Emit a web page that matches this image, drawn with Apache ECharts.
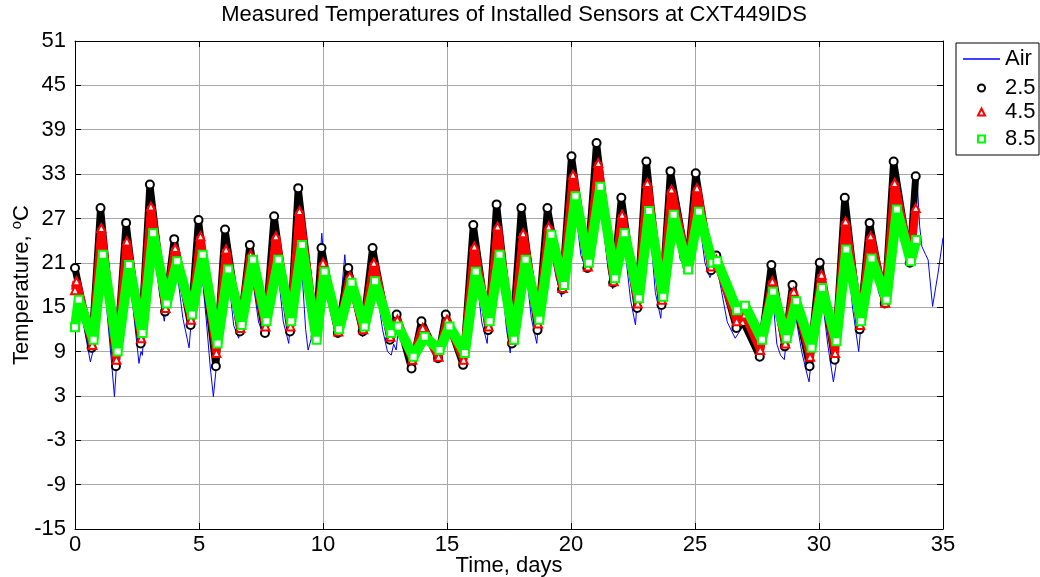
<!DOCTYPE html>
<html>
<head>
<meta charset="utf-8">
<script src="https://cdn.jsdelivr.net/npm/echarts@6/dist/echarts.min.js"></script>
<style>
html,body{margin:0;padding:0;background:#fff;}
#chart{width:1040px;height:577px;}
</style>
</head>
<body>
<div id="chart"></div>
<script>
// ---- data (day, temperature °C) ----
const titleText = 'Measured Temperatures of Installed Sensors at CXT449IDS';
const seriesNames = ['Air', '2.5', '4.5', '8.5'];
const xTicks = [0, 5, 10, 15, 20, 25, 30, 35];
const yTicks = [-15, -9, -3, 3, 9, 15, 21, 27, 33, 39, 45, 51];

const airTemp = [
  [0.00,17.5],[0.35,12.5],[0.62,7.6],[0.72,9.0],[1.00,26.5],[1.30,14.0],[1.50,6.5],[1.59,2.9],[1.68,7.5],
  [2.02,25.0],[2.40,13.0],[2.58,7.4],[2.66,9.0],[2.72,8.5],[3.00,29.5],[3.40,17.0],[3.60,13.1],[3.98,23.5],
  [4.35,13.5],[4.60,9.5],[4.97,25.0],[5.30,13.0],[5.45,7.0],[5.58,2.9],[5.70,7.0],[6.03,24.0],[6.40,12.5],
  [6.60,10.8],[7.03,22.0],[7.40,13.0],[7.62,11.0],[8.01,25.5],[8.40,13.0],[8.62,10.1],[8.98,29.0],[9.30,12.0],
  [9.40,9.2],[9.55,11.0],[9.70,12.0],[9.95,25.0],[10.15,17.0],[10.60,11.3],[10.88,22.1],[10.95,19.0],[11.02,19.5],
  [11.60,11.0],[11.98,22.0],[12.40,12.0],[12.60,9.0],[12.75,8.5],[12.85,10.0],[12.95,9.2],[13.05,12.5],[13.55,7.0],
  [13.95,12.0],[14.62,8.0],[14.93,13.0],[15.62,7.0],[16.04,24.0],[16.40,13.0],[16.62,10.1],[16.98,27.0],[17.40,12.0],
  [17.55,8.8],[17.98,26.5],[18.40,13.5],[18.62,10.1],[19.02,26.5],[19.40,19.0],[19.62,16.4],[20.00,33.5],[20.40,22.0],
  [20.64,19.8],[21.01,35.0],[21.50,20.0],[21.68,17.5],[22.01,28.0],[22.40,16.0],[22.60,12.6],[23.02,32.5],[23.40,17.0],
  [23.62,13.5],[24.00,31.5],[24.40,21.5],[24.68,19.8],[25.01,31.0],[25.40,21.0],[25.60,19.0],[25.85,21.0],[26.05,17.5],
  [26.30,13.0],[26.62,10.8],[26.95,12.5],[27.20,11.0],[27.58,7.7],[28.05,19.5],[28.30,10.0],[28.45,8.5],[28.60,7.9],
  [28.90,17.0],[29.30,9.0],[29.55,5.5],[29.60,4.9],[29.66,7.0],[30.00,20.0],[30.35,10.0],[30.58,4.9],[30.68,7.0],
  [31.02,28.0],[31.35,15.0],[31.60,9.0],[32.02,25.0],[32.40,17.0],[32.62,15.3],[33.00,33.0],[33.40,23.0],[33.62,21.0],
  [33.96,32.0],[34.06,25.9],[34.15,23.2],[34.30,22.1],[34.40,21.4],[34.58,15.1],[34.64,15.1],[34.80,19.6],[35.00,24.4]
];

const sensor25 = [
  [0.00,20.3],[0.67,9.5],[1.03,28.4],[1.65,7.0],[2.06,26.4],[2.65,10.1],[3.02,31.6],[3.63,14.4],[4.00,24.2],
  [4.66,12.6],[4.98,26.8],[5.68,7.0],[6.05,25.5],[6.65,11.7],[7.05,23.4],[7.66,11.5],[8.03,27.3],[8.67,11.7],
  [9.00,31.1],[9.70,11.0],[9.94,23.0],[10.60,11.5],[11.02,20.3],[11.60,11.7],[12.00,23.0],[12.70,10.6],[12.97,14.0],
  [13.57,6.7],[13.97,13.1],[14.64,8.1],[14.95,14.0],[15.65,7.2],[16.06,26.1],[16.66,11.9],[17.00,28.9],[17.62,10.1],
  [18.00,28.4],[18.65,11.9],[19.05,28.4],[19.64,17.4],[20.02,35.4],[20.66,20.3],[21.03,37.2],[21.70,18.3],[22.03,29.8],
  [22.67,14.9],[23.04,34.7],[23.65,15.3],[24.01,33.4],[24.70,20.5],[25.03,33.1],[25.65,20.0],[25.86,22.0],[26.67,12.2],
  [26.95,13.0],[27.61,8.3],[28.08,20.7],[28.62,9.7],[28.93,18.0],[29.62,7.0],[30.03,21.0],[30.63,7.9],[31.04,29.8],
  [31.64,12.0],[32.04,26.4],[32.65,15.5],[33.01,34.7],[33.66,21.0],[33.90,32.7]
];

const sensor45 = [
  [0.00,17.3],[0.06,18.5],[0.70,9.9],[1.06,25.7],[1.67,7.9],[2.09,23.9],[2.67,10.8],[3.06,28.6],[3.65,14.9],
  [4.04,23.0],[4.68,13.3],[5.06,24.6],[5.70,8.8],[6.09,22.8],[6.67,12.2],[7.08,22.1],[7.68,12.4],[8.10,24.6],
  [8.69,12.4],[9.05,28.0],[9.72,11.2],[10.00,21.0],[10.62,11.7],[11.08,19.2],[11.62,12.0],[12.05,21.0],[12.72,11.0],
  [13.00,13.3],[13.60,7.9],[14.02,12.2],[14.66,8.3],[15.00,13.3],[15.67,7.9],[16.10,23.2],[16.68,12.4],[17.04,25.9],
  [17.64,10.6],[18.07,25.0],[18.67,12.8],[19.10,25.9],[19.66,17.6],[20.08,32.9],[20.68,20.5],[21.10,34.5],[21.72,18.5],
  [22.06,27.5],[22.69,15.5],[23.08,31.8],[23.67,16.0],[24.05,30.9],[24.72,20.5],[25.08,31.1],[25.65,20.5],[25.86,21.4],
  [26.68,13.1],[27.00,14.0],[27.63,9.2],[28.12,18.5],[28.64,10.1],[28.98,17.1],[29.64,8.3],[30.10,19.4],[30.65,8.8],
  [31.07,26.6],[31.66,12.6],[32.08,24.6],[32.67,15.6],[33.05,31.8],[33.68,21.4],[33.90,28.4]
];

const sensor85 = [
  [0.00,12.3],[0.15,16.0],[0.75,10.6],[1.12,22.1],[1.72,9.0],[2.18,20.7],[2.72,11.5],[3.15,25.0],[3.70,15.5],
  [4.12,21.2],[4.72,14.0],[5.15,22.1],[5.75,10.1],[6.18,20.1],[6.72,12.6],[7.18,21.4],[7.72,13.1],[8.20,21.4],
  [8.72,13.1],[9.15,23.4],[9.74,10.6],[10.06,19.8],[10.65,12.0],[11.15,18.3],[11.68,12.4],[12.10,18.5],[12.75,11.5],
  [13.03,12.4],[13.65,8.3],[14.10,11.0],[14.70,9.2],[15.10,12.4],[15.72,8.8],[16.16,19.8],[16.72,13.1],[17.12,22.1],
  [17.70,10.6],[18.17,21.4],[18.72,13.3],[19.21,24.8],[19.72,18.0],[20.18,30.0],[20.72,21.0],[21.18,31.3],[21.78,18.9],
  [22.16,25.0],[22.74,16.2],[23.15,28.0],[23.72,16.4],[24.14,27.5],[24.72,20.1],[25.16,27.9],[25.70,21.0],[25.90,21.2],
  [26.70,14.6],[27.02,15.2],[27.70,10.6],[28.15,17.1],[28.70,10.8],[29.08,15.8],[29.70,9.5],[30.12,17.6],[30.70,10.4],
  [31.10,22.8],[31.70,13.1],[32.12,21.6],[32.72,16.0],[33.14,28.2],[33.70,21.2],[33.92,24.1]
];

// ---- chart ----
const FONT = '"Liberation Sans", Arial, sans-serif';
const FS = 22;
const chart = echarts.init(document.getElementById('chart'), null, {renderer: 'canvas'});

const xMin = xTicks[0], xMax = xTicks[xTicks.length - 1], xStep = xTicks[1] - xTicks[0];
const yMin = yTicks[0], yMax = yTicks[yTicks.length - 1], yStep = yTicks[1] - yTicks[0];

function axisCommon(showLabel, margin) {
  return {
    axisLine: {show: true, onZero: false, lineStyle: {color: '#000', width: 1}},
    axisTick: {show: true, inside: true, length: 6, lineStyle: {color: '#000'}},
    axisLabel: {show: showLabel, color: '#000', fontFamily: FONT, fontSize: FS, margin: margin || 8},
  };
}
const legendText = {fontFamily: FONT, fontSize: FS, color: '#000', lineHeight: 22};
const legendTextPad = Object.assign({}, legendText, {padding: [0, 0, 0, 15]});

const option = {
  animation: false,
  backgroundColor: '#fff',
  title: {
    text: titleText, left: 509, top: -1, textAlign: 'center',
    textStyle: {fontFamily: FONT, fontSize: FS, fontWeight: 'normal', color: '#000'}
  },
  grid: {left: 75, right: 97, top: 41, bottom: 48, containLabel: false, outerBoundsMode: 'none'},
  graphic: [{
    type: 'rect', shape: {x: 956, y: 43, width: 83, height: 112},
    style: {fill: '#fff', stroke: '#000', lineWidth: 1}, z: 5
  }],
  legend: [
    {data: [{name: seriesNames[0], icon: 'rect'}], left: 958, top: 43, itemWidth: 37, itemHeight: 1.5,
     textStyle: legendText, z: 10},
    {data: [{name: seriesNames[1], icon: 'emptyCircle'}], left: 972, top: 72, itemWidth: 7, itemHeight: 7,
     textStyle: legendTextPad, z: 10},
    {data: [{name: seriesNames[2], icon: 'emptyTriangle'}], left: 972, top: 96, itemWidth: 7, itemHeight: 7,
     textStyle: legendTextPad, z: 10},
    {data: [{name: seriesNames[3], icon: 'emptyRect'}], left: 972, top: 123, itemWidth: 7, itemHeight: 7,
     textStyle: legendTextPad, z: 10}
  ],
  xAxis: [
    Object.assign({type: 'value', position: 'bottom', min: xMin, max: xMax, interval: xStep,
      name: 'Time, days', nameLocation: 'middle', nameGap: 26, nameMoveOverlap: false,
      nameTextStyle: {fontFamily: FONT, fontSize: FS, color: '#000'},
      splitLine: {show: true, lineStyle: {color: '#a8a8a8', width: 1}}}, axisCommon(true, 5)),
    Object.assign({type: 'value', position: 'top', min: xMin, max: xMax, interval: xStep,
      splitLine: {show: false}}, axisCommon(false))
  ],
  yAxis: [
    Object.assign({type: 'value', position: 'left', min: yMin, max: yMax, interval: yStep,
      name: 'Temperature, {sup|o}C', nameLocation: 'middle', nameGap: 40, nameRotate: 90, nameMoveOverlap: false,
      nameTextStyle: {fontFamily: FONT, fontSize: FS, color: '#000',
        rich: {sup: {fontFamily: FONT, fontSize: 15, color: '#000', verticalAlign: 'top', padding: [0, 0, 11, 0]}}},
      splitLine: {show: true, lineStyle: {color: '#a8a8a8', width: 1}}}, axisCommon(true, 9)),
    Object.assign({type: 'value', position: 'right', min: yMin, max: yMax, interval: yStep,
      splitLine: {show: false}}, axisCommon(false))
  ],
  series: [
    {name: seriesNames[0], type: 'line', data: airTemp,
     symbol: 'none', lineStyle: {color: '#0000ff', width: 1}, itemStyle: {color: '#0000ff'}, z: 2},
    {name: seriesNames[1], type: 'line', data: sensor25, symbol: 'emptyCircle', symbolSize: 8, showAllSymbol: true,
     itemStyle: {color: '#000', borderWidth: 2}, lineStyle: {color: '#000', width: 7}, z: 3},
    {name: seriesNames[2], type: 'line', data: sensor45, symbol: 'emptyTriangle', symbolSize: 8, showAllSymbol: true,
     itemStyle: {color: '#ff0000', borderWidth: 2}, lineStyle: {color: '#ff0000', width: 8}, z: 4},
    {name: seriesNames[3], type: 'line', data: sensor85, symbol: 'emptyRect', symbolSize: 8, showAllSymbol: true,
     itemStyle: {color: '#00ff00', borderWidth: 2}, lineStyle: {color: '#00ff00', width: 10}, z: 5}
  ]
};
chart.setOption(option);
</script>
</body>
</html>
